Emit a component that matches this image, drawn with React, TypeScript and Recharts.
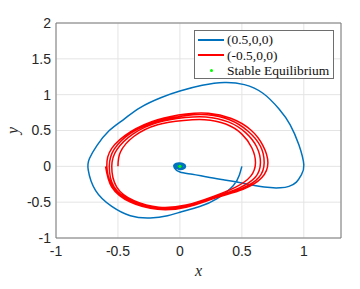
import React from 'react';
import {
  ComposedChart,
  Line,
  Scatter,
  XAxis,
  YAxis,
  CartesianGrid,
  ReferenceLine,
  Label,
} from 'recharts';

// trajectory starting at (0.5,0,0)
const blueX = [
  0.5, 0.48, 0.43, 0.3, 0.16, 0.0, -0.1, -0.24, -0.4, -0.55, -0.68, -0.74, -0.73, -0.67, -0.57,
  -0.45, -0.32, -0.15, 0.0, 0.18, 0.36, 0.52, 0.67, 0.8, 0.89, 0.96, 1.0, 0.98, 0.94, 0.88, 0.81,
  0.68, 0.49, 0.36, 0.22, 0.1, 0.0, -0.045, -0.045, -0.01, 0.03, 0.045, 0.03, -0.01, -0.035, -0.035,
  -0.005, 0.025, 0.035, 0.02, -0.005, -0.025, -0.025, 0.0, 0.018, 0.022, 0.012, -0.005, -0.015, 0.0,
  0.01, 0.0, 0.0,
];
const blueY = [
  0.0, -0.12, -0.27, -0.45, -0.56, -0.64, -0.69, -0.72, -0.69, -0.56, -0.34, -0.05, 0.11, 0.29, 0.5,
  0.66, 0.82, 0.96, 1.05, 1.13, 1.17, 1.14, 1.02, 0.8, 0.58, 0.3, 0.02, -0.12, -0.22, -0.28, -0.3,
  -0.29, -0.23, -0.19, -0.15, -0.11, -0.08, -0.02, 0.025, 0.045, 0.035, 0.0, -0.035, -0.04, -0.015,
  0.02, 0.035, 0.025, 0.0, -0.03, -0.03, -0.01, 0.015, 0.025, 0.015, 0.0, -0.018, -0.02, 0.0, 0.012,
  0.0, -0.008, 0.0,
];

// trajectory starting at (-0.5,0,0)
const redX = [
  -0.5, -0.48, -0.37, -0.18, 0.03, 0.2, 0.37, 0.5, 0.58, 0.61, 0.57, 0.45, 0.27, 0.05, -0.17, -0.37,
  -0.51, -0.55, -0.51, -0.38, -0.18, 0.04, 0.21, 0.39, 0.53, 0.62, 0.65, 0.61, 0.48, 0.28, 0.05,
  -0.18, -0.38, -0.53, -0.57, -0.53, -0.39, -0.18, 0.05, 0.22, 0.4, 0.55, 0.65, 0.68, 0.64, 0.5,
  0.28, 0.05, -0.18, -0.39, -0.54, -0.59, -0.55, -0.4, -0.18, 0.05, 0.23, 0.41, 0.57, 0.67, 0.71,
  0.66, 0.51, 0.29, 0.05, -0.18, -0.4, -0.55, -0.6,
];
const redY = [
  0.0, 0.2, 0.42, 0.58, 0.64, 0.65, 0.59, 0.45, 0.26, 0.05, -0.14, -0.29, -0.42, -0.54, -0.57, -0.48,
  -0.29, 0.0, 0.23, 0.45, 0.61, 0.68, 0.69, 0.62, 0.47, 0.27, 0.05, -0.15, -0.3, -0.43, -0.55, -0.58,
  -0.49, -0.29, 0.0, 0.24, 0.47, 0.63, 0.71, 0.72, 0.65, 0.49, 0.28, 0.05, -0.15, -0.31, -0.44,
  -0.56, -0.59, -0.49, -0.29, 0.0, 0.25, 0.48, 0.65, 0.73, 0.74, 0.67, 0.51, 0.29, 0.05, -0.16,
  -0.32, -0.44, -0.57, -0.6, -0.5, -0.29, 0.0,
];

const equilibrium = [{ x: 0, y: 0 }];

const xTicks = [-1, -0.5, 0, 0.5, 1];
const yTicks = [-1, -0.5, 0, 0.5, 1, 1.5, 2];

const blueData = blueX.map((x, i) => ({ x, y: blueY[i] }));
const redData = redX.map((x, i) => ({ x, y: redY[i] }));

const BLUE = '#0072BD';
const RED = '#FF0000';
const GREEN = '#00FF00';
const tickStyle = { fontSize: 14, fill: '#262626', fontFamily: '"Liberation Sans", Arial, sans-serif' };
const serif = '"Liberation Serif", "Times New Roman", serif';

const legendItems = [
  { label: '(0.5,0,0)', color: BLUE, kind: 'line' },
  { label: '(-0.5,0,0)', color: RED, kind: 'line' },
  { label: 'Stable Equilibrium', color: GREEN, kind: 'dot' },
];

const LegendBox = () => (
  <div
    style={{
      position: 'absolute',
      left: 194,
      top: 30,
      border: '1px solid #6e6e6e',
      background: '#fff',
      width: 140,
      height: 49,
      boxSizing: 'border-box',
      padding: '1px 0 0 3px',
      fontFamily: serif,
      fontSize: 13.5,
      color: '#111',
    }}
  >
    {legendItems.map((item) => (
      <div key={item.label} style={{ display: 'flex', alignItems: 'center', height: 15.5, lineHeight: '15px' }}>
        <span style={{ width: 26, display: 'flex', justifyContent: 'center', marginRight: 3 }}>
          {item.kind === 'line' ? (
            <span style={{ width: 26, height: 2, background: item.color }} />
          ) : (
            <span style={{ width: 3, height: 3, background: item.color, borderRadius: 2 }} />
          )}
        </span>
        <span>{item.label}</span>
      </div>
    ))}
  </div>
);

const Dot = (props: any) => <circle cx={props.cx} cy={props.cy} r={1.6} fill={GREEN} />;

export default function App() {
  return (
    <div style={{ position: 'relative', width: 360, height: 289, background: '#fff' }}>
      <style>{'body{margin:0}'}</style>
      <ComposedChart width={360} height={289} margin={{ top: 23, right: 19, bottom: 11, left: 6 }}>
        <CartesianGrid stroke="#e4e4e4" strokeWidth={1} />
        <XAxis
          type="number"
          dataKey="x"
          domain={[-1, 1.3]}
          ticks={xTicks}
          allowDataOverflow
          height={40}
          tickLine={false}
          tickSize={4}
          tickMargin={4}
          axisLine={{ stroke: '#7a7a7a' }}
          tick={tickStyle}
        >
          <Label
            value="x"
            position="insideBottom"
            offset={2}
            style={{ fontFamily: serif, fontStyle: 'italic', fontSize: 16, fill: '#262626' }}
          />
        </XAxis>
        <YAxis
          type="number"
          dataKey="y"
          domain={[-1, 2]}
          ticks={yTicks}
          allowDataOverflow
          width={50}
          tickLine={false}
          tickSize={3}
          tickMargin={2}
          axisLine={{ stroke: '#7a7a7a' }}
          tick={tickStyle}
        >
          <Label
            value="y"
            angle={-90}
            position="insideLeft"
            offset={6}
            style={{ fontFamily: serif, fontStyle: 'italic', fontSize: 16, fill: '#262626', textAnchor: 'middle' }}
          />
        </YAxis>
        <ReferenceLine y={2} stroke="#7a7a7a" />
        <ReferenceLine x={1.3} stroke="#7a7a7a" />
        <Line
          data={blueData}
          dataKey="y"
          type="natural"
          stroke={BLUE}
          strokeWidth={1.5}
          dot={false}
          activeDot={false}
          isAnimationActive={false}
        />
        <Line
          data={redData}
          dataKey="y"
          type="natural"
          stroke={RED}
          strokeWidth={1.5}
          dot={false}
          activeDot={false}
          isAnimationActive={false}
        />
        <Scatter data={equilibrium} dataKey="y" shape={Dot} isAnimationActive={false} />
      </ComposedChart>
      <LegendBox />
    </div>
  );
}
